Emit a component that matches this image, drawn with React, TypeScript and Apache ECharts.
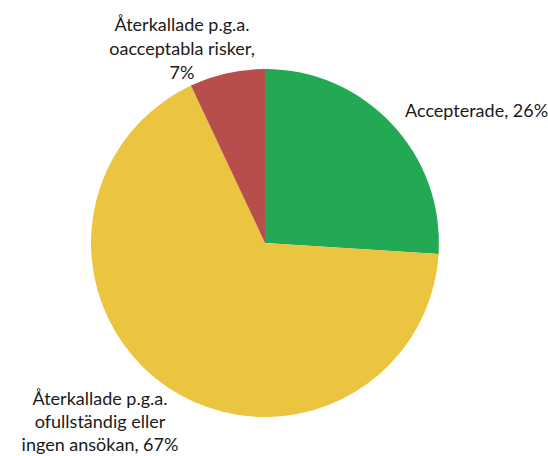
import React, { useEffect, useRef } from "react";
import * as echarts from "echarts";

const categories = [
  "Accepterade",
  "Återkallade p.g.a. ofullständig eller ingen ansökan",
  "Återkallade p.g.a. oacceptabla risker",
];
const values = [26, 67, 7];
const labelTexts = [
  "Accepterade, 26%",
  "Återkallade p.g.a.\nofullständig eller\ningen ansökan, 67%",
  "Återkallade p.g.a.\noacceptabla risker,\n7%",
];
const colors = ["#23A854", "#EBC440", "#B84E4C"];

export default function App() {
  const ref = useRef<HTMLDivElement>(null);
  useEffect(() => {
    if (!ref.current) return;
    const chart = echarts.init(ref.current, undefined, { renderer: "svg" });
    const labelPos = [
      { x: 405, y: 110, align: "left", lh: 24 },
      { x: 100, y: 421, align: "center", lh: 23 },
      { x: 182, y: 48, align: "center", lh: 24 },
    ];
    chart.setOption({
      animation: false,
      backgroundColor: "#ffffff",
      series: [
        {
          type: "pie",
          center: [265, 243],
          radius: 174,
          startAngle: 90,
          clockwise: true,
          data: categories.map((c, i) => ({
            name: c,
            value: values[i],
            itemStyle: { color: colors[i] },
            label: { lineHeight: labelPos[i].lh },
          })),
          label: {
            show: true,
            position: "outside",
            formatter: (p: any) => labelTexts[p.dataIndex],
            fontFamily: "Lato",
            fontSize: 18,
            lineHeight: 24,
            color: "#1a1a1a",
            overflow: "none",
            width: 300,
          },
          labelLine: { show: false },
          labelLayout: (p: any) => ({
            x: labelPos[p.dataIndex].x,
            y: labelPos[p.dataIndex].y,
            align: labelPos[p.dataIndex].align,
            verticalAlign: "middle",
            hideOverlap: false,
          }),
          emphasis: { disabled: true },
        },
      ],
    });
    return () => chart.dispose();
  }, []);
  return (
    <div
      ref={ref}
      style={{ position: "fixed", left: 0, top: 0, width: 548, height: 456 }}
    />
  );
}
